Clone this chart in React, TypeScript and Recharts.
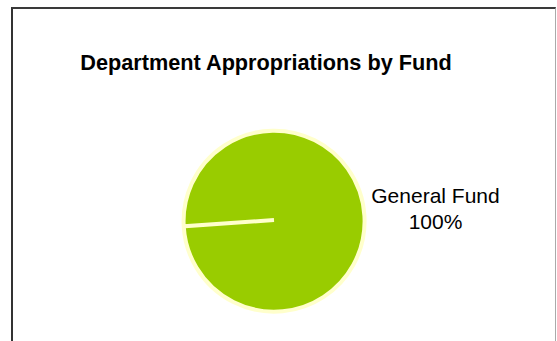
import { PieChart, Pie, Cell, Customized } from "recharts";

const funds = ["General Fund"];
const shares = [100];
const COLORS = ["#99CC00"];
const TITLE = "Department Appropriations by Fund";

const data = funds.map((name, i) => ({ name, value: shares[i] }));

// label to the right of the pie: name + percent
const FundLabel = ({ cx, cy, outerRadius, name, percent }: any) => {
  const x = cx + outerRadius + 71;
  const y = cy - 17;
  return (
    <text
      x={x}
      y={y}
      fill="#000"
      textAnchor="middle"
      fontFamily="Liberation Sans, Arial, sans-serif"
      fontSize={21}
    >
      {name}
      <tspan x={x} dy="26">{`${Math.round(percent * 100)}%`}</tspan>
    </text>
  );
};

const Title = () => (
  <text
    x={266}
    y={70}
    textAnchor="middle"
    fontFamily="Liberation Sans, Arial, sans-serif"
    fontWeight="bold"
    fontSize={21.7}
    fill="#000"
  >
    {TITLE}
  </text>
);

export default function App() {
  return (
    <div style={{ position: "absolute", left: 0, top: 0, width: 557, height: 341, overflow: "hidden", background: "#fff" }}>
      <div
        style={{
          position: "absolute",
          left: 11,
          top: 7,
          width: 542,
          height: 400,
          borderTop: "2px solid #3a3a3a",
          borderLeft: "2px solid #333",
          borderRight: "1px solid #aaa",
        }}
      />
      <div style={{ position: "absolute", left: 0, top: 0 }}>
        <PieChart width={557} height={341} margin={{ top: 0, right: 0, bottom: 0, left: 0 }}>
          <Customized component={Title} />
          <Pie
            data={data}
            dataKey="value"
            nameKey="name"
            cx={274}
            cy={220}
            outerRadius={90.5}
            startAngle={184}
            endAngle={-176}
            stroke="#FFFFCC"
            strokeWidth={4}
            labelLine={false}
            label={FundLabel}
            isAnimationActive={false}
          >
            {data.map((entry, index) => (
              <Cell key={`cell-${index}`} fill={COLORS[index % COLORS.length]} />
            ))}
          </Pie>
        </PieChart>
      </div>
    </div>
  );
}
